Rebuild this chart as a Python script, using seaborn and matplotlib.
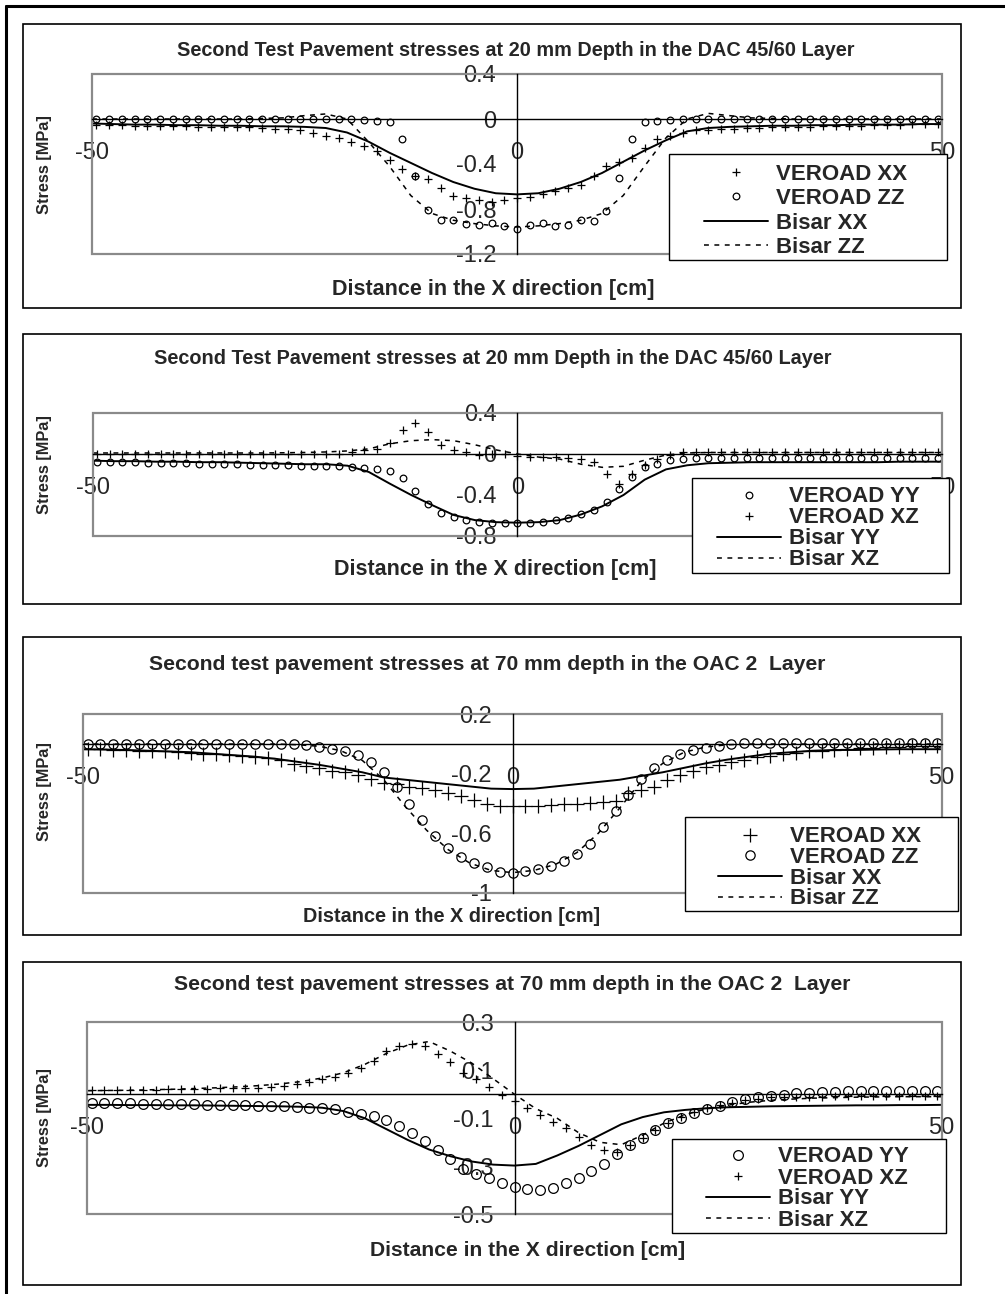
import matplotlib
matplotlib.use("Agg")
import numpy as np
import matplotlib.pyplot as plt
from matplotlib.patches import Rectangle
from matplotlib.lines import Line2D
from matplotlib.ticker import FuncFormatter
import seaborn as sns

# x positions: VEROAD points every 1.5 cm, Bisar curves every 2.5 cm
x_pts = np.arange(-49.5, 49.6, 1.5)
x_line = np.arange(-50, 50.1, 2.5)

# Panel 1 - 20 mm depth, XX / ZZ
p1_veroad_xx = [-0.05, -0.05, -0.055, -0.06, -0.06, -0.06, -0.065, -0.065, -0.07, -0.07, -0.07, -0.075,
                -0.075, -0.08, -0.085, -0.09, -0.10, -0.12, -0.15, -0.17, -0.20, -0.24, -0.28, -0.36,
                -0.44, -0.51, -0.53, -0.61, -0.68, -0.70, -0.72, -0.74, -0.72, -0.70,
                -0.69, -0.67, -0.64, -0.61, -0.59, -0.51, -0.42, -0.38, -0.35, -0.26, -0.18, -0.15,
                -0.12, -0.10, -0.095, -0.09, -0.085, -0.08, -0.08, -0.075, -0.075, -0.07, -0.07, -0.065,
                -0.065, -0.06, -0.06, -0.055, -0.05, -0.05, -0.045, -0.045, -0.04]
p1_veroad_zz = [0.0, 0.0, 0.0, 0.0, 0.0, 0.0, 0.0, 0.0, 0.0, 0.0, 0.0, 0.0, 0.0, 0.0, 0.0, 0.0, 0.0,
                0.0, 0.0, 0.0, 0.0,
                -0.01, -0.02, -0.03, -0.18, -0.51, -0.81, -0.90, -0.90, -0.93, -0.94, -0.92, -0.95, -0.98,
                -0.94, -0.92, -0.95, -0.94, -0.90, -0.91, -0.82, -0.52, -0.18, -0.03, -0.02, -0.01,
                0.0, 0.0, 0.0, 0.0, 0.0, 0.0, 0.0, 0.0, 0.0, 0.0, 0.0, 0.0, 0.0, 0.0, 0.0, 0.0, 0.0,
                0.0, 0.0, 0.0, 0.0]
p1_bisar_xx = [-0.04, -0.045, -0.05, -0.05, -0.055, -0.055, -0.06, -0.06, -0.065, -0.065, -0.07,
               -0.08, -0.12, -0.20, -0.30, -0.39, -0.48, -0.56, -0.62, -0.66, -0.67,
               -0.66, -0.62, -0.56, -0.48, -0.38, -0.28, -0.19, -0.11, -0.08, -0.07,
               -0.065, -0.06, -0.06, -0.055, -0.055, -0.05, -0.05, -0.05, -0.045, -0.045]
p1_bisar_zz = [0.0, 0.0, 0.0, 0.0, 0.0, 0.0, 0.0, 0.0, 0.005,
               0.01, 0.03, 0.045, 0.0, -0.20, -0.42, -0.68, -0.84, -0.90, -0.93, -0.95, -0.96,
               -0.95, -0.93, -0.90, -0.84, -0.68, -0.42, -0.17, 0.0, 0.05, 0.03, 0.01,
               0.005, 0.0, 0.0, 0.0, 0.0, 0.0, 0.0, 0.0, 0.0]

# Panel 2 - 20 mm depth, YY / XZ
p2_veroad_yy = [-0.075, -0.075, -0.08, -0.08, -0.085, -0.085, -0.09, -0.09, -0.095, -0.095, -0.10,
                -0.10, -0.105, -0.105, -0.11, -0.11, -0.115, -0.115, -0.12, -0.12, -0.125, -0.14,
                -0.15, -0.17, -0.23, -0.36, -0.49, -0.58, -0.61, -0.64, -0.66, -0.67, -0.67, -0.67,
                -0.67, -0.66, -0.64, -0.62, -0.59, -0.55, -0.47, -0.34, -0.22, -0.13, -0.10, -0.06,
                -0.045, -0.04, -0.04, -0.04, -0.04, -0.04, -0.04, -0.04, -0.04, -0.04, -0.04, -0.04,
                -0.04, -0.04, -0.04, -0.04, -0.04, -0.04, -0.04, -0.04, -0.04]
p2_veroad_xz = [0.0, 0.0, 0.0, 0.0, 0.0, 0.0, 0.0, 0.0, 0.0, 0.0, 0.0, 0.0, 0.0, 0.0, 0.0, 0.0, 0.0,
                0.0, 0.0, 0.0,
                0.015, 0.04, 0.05, 0.11, 0.23, 0.30, 0.21, 0.09, 0.04, 0.015, -0.01, 0.0, 0.0, -0.015,
                -0.03, -0.025, -0.025, -0.04, -0.05, -0.075, -0.20, -0.29, -0.20, -0.11, -0.05, -0.01,
                0.015, 0.02, 0.02, 0.02, 0.02, 0.02, 0.02, 0.02, 0.02, 0.02, 0.02, 0.02, 0.02, 0.02,
                0.02, 0.02, 0.02, 0.02, 0.02, 0.02, 0.02]
p2_bisar_yy = [-0.065, -0.07, -0.07, -0.075, -0.075, -0.08, -0.08, -0.085, -0.09, -0.095, -0.10,
               -0.10, -0.114, -0.175, -0.29, -0.40, -0.50, -0.595, -0.645, -0.665, -0.67,
               -0.665, -0.645, -0.59, -0.51, -0.40, -0.25, -0.15, -0.11, -0.09, -0.085,
               -0.08, -0.08, -0.08, -0.08, -0.08, -0.08, -0.08, -0.075, -0.075, -0.075]
p2_bisar_xz = [0.01, 0.01, 0.01, 0.01, 0.01, 0.01, 0.01, 0.01, 0.01, 0.012, 0.015,
               0.02, 0.03, 0.05, 0.10, 0.13, 0.14, 0.13, 0.09, 0.04, 0.0,
               -0.03, -0.05, -0.10, -0.13, -0.12, -0.06, -0.01, 0.01, 0.015, 0.015,
               0.015, 0.015, 0.015, 0.015, 0.015, 0.015, 0.015, 0.015, 0.015, 0.015]

# Panel 3 - 70 mm depth, XX / ZZ
p3_veroad_xx = [-0.035, -0.035, -0.04, -0.04, -0.045, -0.045, -0.05, -0.055, -0.06, -0.065, -0.07,
                -0.075, -0.08, -0.085, -0.095, -0.11, -0.135, -0.145, -0.16, -0.18, -0.19, -0.21,
                -0.235, -0.26, -0.27, -0.29, -0.295, -0.31, -0.33, -0.35, -0.375, -0.40, -0.415, -0.42,
                -0.42, -0.415, -0.41, -0.405, -0.40, -0.395, -0.39, -0.38, -0.33, -0.31, -0.29, -0.245,
                -0.21, -0.18, -0.155, -0.14, -0.12, -0.105, -0.09, -0.08, -0.07, -0.06, -0.05, -0.045,
                -0.04, -0.035, -0.03, -0.025, -0.02, -0.02, -0.015, -0.015, -0.01]
p3_veroad_zz = [0.0, 0.0, 0.0, 0.0, 0.0, 0.0, 0.0, 0.0, 0.0, 0.0, 0.0, 0.0, 0.0, 0.0, 0.0, 0.0,
                0.0, -0.007, -0.02, -0.035, -0.05, -0.075, -0.12, -0.19, -0.29, -0.40, -0.51, -0.62,
                -0.70, -0.76, -0.80, -0.83, -0.86, -0.87,
                -0.855, -0.84, -0.82, -0.79, -0.74, -0.67, -0.56, -0.45, -0.34, -0.235, -0.16, -0.11,
                -0.07, -0.04, -0.027, -0.01, 0.0, 0.005, 0.005, 0.005, 0.005, 0.005, 0.005, 0.005,
                0.005, 0.005, 0.005, 0.005, 0.005, 0.005, 0.005, 0.005, 0.005]
p3_bisar_xx = [-0.035, -0.037, -0.04, -0.045, -0.05, -0.055, -0.065, -0.075, -0.085, -0.10, -0.12,
               -0.14, -0.165, -0.19, -0.225, -0.24, -0.255, -0.27, -0.285, -0.30, -0.303,
               -0.30, -0.285, -0.27, -0.255, -0.24, -0.215, -0.19, -0.16, -0.13, -0.105,
               -0.085, -0.065, -0.055, -0.045, -0.04, -0.04, -0.037, -0.035, -0.035, -0.035]
p3_bisar_zz = [0.0, 0.0, 0.0, 0.0, 0.0, 0.0, 0.0, 0.0, 0.0, 0.0,
               -0.005, -0.015, -0.045, -0.11, -0.24, -0.42, -0.58, -0.71, -0.80, -0.85, -0.865,
               -0.85, -0.81, -0.73, -0.60, -0.43, -0.25, -0.13, -0.055, -0.02, -0.005,
               0.0, 0.0, 0.0, 0.0, 0.0, 0.0, 0.0, 0.0, 0.0, 0.0]

# Panel 4 - 70 mm depth, YY / XZ
p4_veroad_yy = [-0.035, -0.036, -0.037, -0.038, -0.039, -0.04, -0.04, -0.041, -0.042, -0.043, -0.044,
                -0.045, -0.046, -0.047, -0.048, -0.049, -0.051, -0.055, -0.058, -0.063, -0.072, -0.08,
                -0.089, -0.107, -0.13, -0.16, -0.193, -0.232, -0.27, -0.31, -0.33, -0.35, -0.37, -0.385,
                -0.395, -0.40, -0.39, -0.37, -0.35, -0.32, -0.29, -0.25, -0.21, -0.18, -0.15, -0.12,
                -0.097, -0.076, -0.06, -0.047, -0.033, -0.02, -0.0125, -0.006, -0.001, 0.004, 0.007,
                0.011, 0.01, 0.014, 0.014, 0.014, 0.014, 0.014, 0.014, 0.014, 0.014]
p4_veroad_xz = [0.018, 0.018, 0.019, 0.019, 0.02, 0.02, 0.021, 0.022, 0.023, 0.024, 0.025, 0.026,
                0.027, 0.028, 0.03, 0.035, 0.043, 0.053, 0.063, 0.074, 0.088, 0.11, 0.14, 0.18, 0.20,
                0.21, 0.20, 0.17, 0.136, 0.09, 0.063, 0.03, -0.003, -0.026,
                -0.056, -0.086, -0.114, -0.14, -0.176, -0.21, -0.23, -0.24, -0.21, -0.18, -0.15, -0.12,
                -0.095, -0.072, -0.058, -0.045, -0.035, -0.025, -0.018, -0.013, -0.01, -0.01, -0.01,
                -0.01, -0.009, -0.009, -0.008, -0.008, -0.008, -0.007, -0.007, -0.007, -0.007]
p4_bisar_yy = [-0.044, -0.044, -0.045, -0.045, -0.046, -0.046, -0.047, -0.048, -0.049, -0.05, -0.052,
               -0.056, -0.07, -0.10, -0.145, -0.19, -0.23, -0.258, -0.28, -0.293, -0.297,
               -0.29, -0.255, -0.215, -0.17, -0.125, -0.095, -0.075, -0.065, -0.058, -0.054,
               -0.052, -0.05, -0.049, -0.048, -0.047, -0.046, -0.046, -0.045, -0.045, -0.044]
p4_bisar_xz = [0.015, 0.016, 0.017, 0.019, 0.021, 0.024, 0.027, 0.031, 0.036, 0.043, 0.053,
               0.068, 0.09, 0.125, 0.17, 0.205, 0.22, 0.18, 0.13, 0.065, 0.0,
               -0.06, -0.10, -0.16, -0.20, -0.21, -0.17, -0.12, -0.085, -0.06, -0.045,
               -0.033, -0.025, -0.02, -0.016, -0.014, -0.012, -0.011, -0.01, -0.01, -0.01]

title_20 = "Second Test Pavement stresses at 20 mm Depth in the DAC 45/60 Layer"
title_70 = "Second test pavement stresses at 70 mm depth in the OAC 2  Layer"

W, H = 1005, 1294
sns.set_style("white")
plt.rcParams["font.family"] = ["Liberation Sans", "DejaVu Sans"]
plt.rcParams["axes.unicode_minus"] = False

fig = plt.figure(figsize=(W / 100, H / 100), dpi=100)


def fx(px):
    return px / W


def fy(py):
    return 1 - py / H


def draw_panel(box, frame, ylim, yticks, title, title_xy, title_size, xlab_xy, xlab_size, ylab_y,
               series, leg_rect, leg_xy, leg_sp):
    # panel border
    fig.add_artist(Rectangle((fx(box[0]), fy(box[3])), fx(box[2] - box[0]), (box[3] - box[1]) / H,
                             fill=False, ec="black", lw=1.2))
    l, t, r, b = frame
    ax = fig.add_axes([fx(l), fy(b), fx(r - l), (b - t) / H])
    ax.set_facecolor("none")
    handles = []
    for xs, ys, kind, ms, label in series:
        if kind in ("+", "o"):
            sns.lineplot(x=xs, y=ys, ax=ax, estimator=None, sort=False, color="black", marker=kind,
                         linestyle="", markersize=ms, markeredgewidth=0.9,
                         markeredgecolor="black", markerfacecolor="none")
        else:
            ls = "-" if kind == "-" else (0, (3.2, 3.6))
            sns.lineplot(x=xs, y=ys, ax=ax, estimator=None, sort=False, color="black",
                         linestyle=ls, linewidth=1.4 if kind == "-" else 1.1)
        handles.append((ax.get_lines()[-1], label))
    ax.set_xlim(-50, 50)
    ax.set_ylim(*ylim)
    ax.set_xlabel("")
    ax.set_ylabel("")
    # Excel style axes crossing at zero
    for s in ("top", "right"):
        ax.spines[s].set_visible(False)
    for s in ("left", "bottom"):
        ax.spines[s].set_position(("data", 0))
        ax.spines[s].set_color("black")
        ax.spines[s].set_linewidth(1.0)
    ax.add_patch(Rectangle((0, 0), 1, 1, transform=ax.transAxes, fill=False, ec="#8a8a8a",
                           lw=1.6, clip_on=False, zorder=2))
    ax.set_xticks([-50, 0, 50])
    ax.set_yticks(yticks)
    fmt = FuncFormatter(lambda v, p: f"{v:g}")
    ax.xaxis.set_major_formatter(fmt)
    ax.yaxis.set_major_formatter(fmt)
    ax.tick_params(axis="y", direction="out", length=7, width=1, pad=8, labelsize=17)
    ax.tick_params(axis="x", length=0, pad=16.5, labelsize=17)
    # legend box + entries
    ax.add_patch(Rectangle((fx(leg_rect[0]), fy(leg_rect[3])), fx(leg_rect[2] - leg_rect[0]),
                           (leg_rect[3] - leg_rect[1]) / H, transform=fig.transFigure,
                           fc="white", ec="black", lw=1.0, clip_on=False, zorder=5.5))
    leg = ax.legend([h for h, _ in handles], [lb for _, lb in handles], loc="upper left",
                    bbox_to_anchor=(fx(leg_xy[0]), fy(leg_xy[1])), bbox_transform=fig.transFigure,
                    frameon=False, borderpad=0, borderaxespad=0, handlelength=2.9,
                    handletextpad=0.36, labelspacing=leg_sp, numpoints=1,
                    prop={"weight": "bold", "size": 16})
    leg.set_zorder(6)
    fig.text(fx(title_xy[0]), fy(title_xy[1]), title, ha="center", va="center",
             weight="bold", size=title_size)
    fig.text(fx(xlab_xy[0]), fy(xlab_xy[1]), "Distance in the X direction [cm]", ha="center",
             va="center", weight="bold", size=xlab_size)
    fig.text(fx(44), fy(ylab_y), "Stress [MPa]", rotation=90, ha="center", va="center",
             weight="bold", size=11.8)
    return ax


draw_panel((23, 24, 961, 308), (92, 74, 942, 254), (-1.2, 0.4), [0.4, 0, -0.4, -0.8, -1.2],
           title_20, (516, 50), 14.3, (493, 290), 15.5, 165,
           [(x_pts, p1_veroad_xx, "+", 6, "VEROAD XX"),
            (x_pts, p1_veroad_zz, "o", 4.8, "VEROAD ZZ"),
            (x_line, p1_bisar_xx, "-", 0, "Bisar XX"),
            (x_line, p1_bisar_zz, "--", 0, "Bisar ZZ")],
           (669, 154, 947, 260), (704, 163.5), 0.16)

draw_panel((23, 334, 961, 604), (92.7, 413, 942, 536), (-0.8, 0.4), [0.4, 0, -0.4, -0.8],
           title_20, (493, 358), 14.3, (495, 570), 15.5, 465,
           [(x_pts, p2_veroad_yy, "o", 4.8, "VEROAD YY"),
            (x_pts, p2_veroad_xz, "+", 6, "VEROAD XZ"),
            (x_line, p2_bisar_yy, "-", 0, "Bisar YY"),
            (x_line, p2_bisar_xz, "--", 0, "Bisar XZ")],
           (692, 478, 949, 573), (717, 486.5), 0.0)

draw_panel((23, 637, 961, 935), (83.3, 714.3, 941.7, 892.7), (-1, 0.2), [0.2, -0.2, -0.6, -1],
           title_70, (487, 664), 15.2, (452, 917), 14.3, 792,
           [(x_pts, p3_veroad_xx, "+", 9.6, "VEROAD XX"),
            (x_pts, p3_veroad_zz, "o", 6.7, "VEROAD ZZ"),
            (x_line, p3_bisar_xx, "-", 0, "Bisar XX"),
            (x_line, p3_bisar_zz, "--", 0, "Bisar ZZ")],
           (685, 817, 958, 911), (718, 826.5), -0.015)

draw_panel((23, 962, 961, 1285), (87.3, 1022.3, 941.7, 1214.3), (-0.5, 0.3), [0.3, 0.1, -0.1, -0.3, -0.5],
           title_70, (512, 985), 15.2, (528, 1251), 15.2, 1118,
           [(x_pts, p4_veroad_yy, "o", 7, "VEROAD YY"),
            (x_pts, p4_veroad_xz, "+", 6, "VEROAD XZ"),
            (x_line, p4_bisar_yy, "-", 0, "Bisar YY"),
            (x_line, p4_bisar_xz, "--", 0, "Bisar XZ")],
           (672, 1139, 946, 1233), (706, 1146.5), 0.0)

# outer page border (top and left)
fig.add_artist(Line2D([fx(6), fx(6)], [fy(6), fy(H)], color="black", lw=2.2))
fig.add_artist(Line2D([fx(6), 1], [fy(6), fy(6)], color="black", lw=2.2))

fig.savefig("out.png", dpi=100)
